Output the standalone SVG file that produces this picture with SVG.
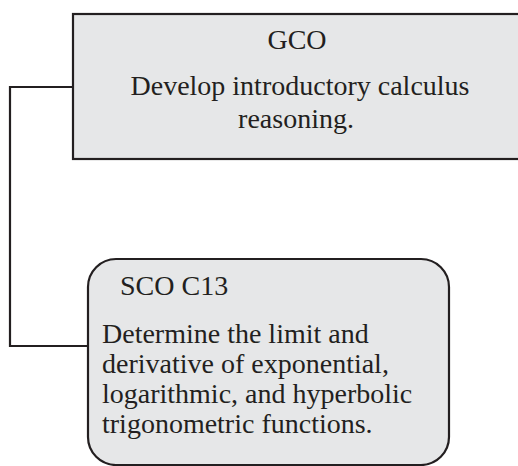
<svg xmlns="http://www.w3.org/2000/svg" width="518" height="466" viewBox="0 0 518 466">
<style>
.box{fill:#e6e7e8;stroke:#231f20;stroke-width:2.2}
.conn{fill:none;stroke:#231f20;stroke-width:2.2}
text{font-family:"Liberation Serif","Times New Roman",serif;font-size:28px;fill:#231f20}
</style>
<rect width="518" height="466" fill="#ffffff"/>
<g id="connectors">
<path class="conn" d="M73 87 H10 V346 H88"/>
</g>
<g id="gco">
<rect class="box" x="73" y="14" width="460" height="145"/>
<text x="297" y="49" text-anchor="middle">GCO</text>
<text x="300" y="95" text-anchor="middle">Develop introductory calculus</text>
<text x="296" y="128" text-anchor="middle">reasoning.</text>
</g>
<g id="sco">
<rect class="box" x="88" y="259" width="361" height="206" rx="28" ry="28"/>
<text x="120" y="295">SCO C13</text>
<text x="102" y="343">Determine the limit and</text>
<text x="102" y="373">derivative of exponential,</text>
<text x="102" y="403">logarithmic, and hyperbolic</text>
<text x="102" y="433">trigonometric functions.</text>
</g>
</svg>
